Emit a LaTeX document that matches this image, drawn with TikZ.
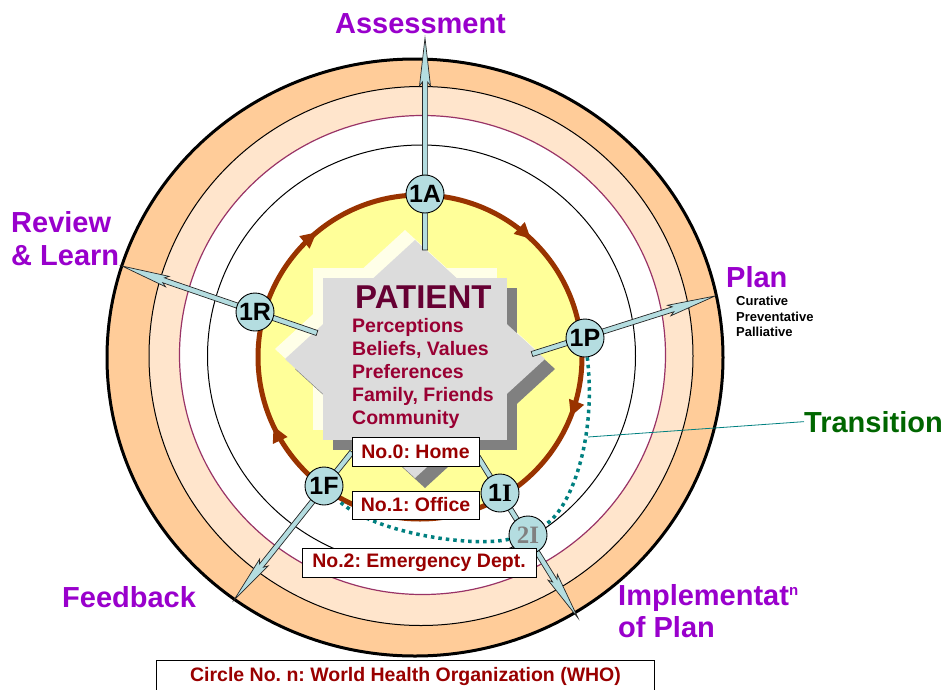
\documentclass[tikz,border=0pt]{standalone}
\usepackage{fontspec}
\setmainfont{Liberation Sans}
\newfontfamily\serifb{Liberation Serif}
\usetikzlibrary{calc,arrows.meta,decorations.markings}
\definecolor{ringorange}{HTML}{FFCC99}
\definecolor{ringpeach}{HTML}{FFE5CC}
\definecolor{ringpurple}{HTML}{993366}
\definecolor{coreyellow}{HTML}{FFFF99}
\definecolor{cyclebrown}{HTML}{993300}
\definecolor{nodeblue}{HTML}{B4DDE0}
\definecolor{labelpurple}{HTML}{9900CC}
\definecolor{transgreen}{HTML}{006600}
\definecolor{boxred}{HTML}{990000}
\definecolor{patdark}{HTML}{660033}
\definecolor{patred}{HTML}{990033}
\definecolor{dotteal}{HTML}{008080}
\definecolor{starface}{HTML}{DCDCDC}
\definecolor{starlight}{HTML}{FFFFE8}
\definecolor{starshadow}{HTML}{808080}
\newcommand\fs[1]{\fontsize{#1}{#1}\selectfont\bfseries}
\pgfdeclarelayer{back}
\pgfdeclarelayer{mid}
\pgfsetlayers{back,mid,main}
\newcommand\blockarrow[2]{%
  \coordinate (bh) at ($(#2)!44pt!(#1)$);
  \coordinate (bb) at ($(#2)!48pt!(#1)$);
  \filldraw[arrowbody] ($(#1)!2.6pt!90:(#2)$) -- ($(bh)!2.6pt!90:(#2)$) -- ($(bb)!5.5pt!90:(#2)$) -- (#2)
    -- ($(bb)!5.5pt!-90:(#2)$) -- ($(bh)!2.6pt!-90:(#2)$) -- ($(#1)!2.6pt!-90:(#2)$) -- cycle;}
\newcommand\starfill[1]{%
  \fill[#1] (323,278) rectangle (507,440);
  \fill[#1] (415,240) -- (545,359) -- (415,478) -- (285,359) -- cycle;}
\tikzset{
  stage/.style={circle, draw=black, line width=0.9pt, fill=nodeblue, minimum size=38pt, inner sep=0pt, font=\fs{25}},
  lab/.style={inner sep=0pt, anchor=base west, font=\fs{29}, text=labelpurple},
  infobox/.style={draw=black, line width=1pt, fill=white, text=boxred, font=\fs{19.5}, inner sep=0pt},
  pattext/.style={inner sep=0pt, anchor=base west, font=\fs{19.5}, text=patred},
  smalltext/.style={inner sep=0pt, anchor=base west, font=\fs{13}, text=black},
  arrowbody/.style={fill=nodeblue, draw=black!85, line width=0.7pt, line join=miter},
  brownring/.style={draw=cyclebrown, line width=5pt, fill=coreyellow,
    postaction={decorate},
    decoration={markings,
      mark=at position 0.06 with {\arrow{Triangle[length=16pt,width=15pt]}},
      mark=at position 0.43 with {\arrow{Triangle[length=16pt,width=15pt]}},
      mark=at position 0.64 with {\arrow{Triangle[length=16pt,width=15pt]}},
      mark=at position 0.87 with {\arrow{Triangle[length=16pt,width=15pt]}}}},
  dotline/.style={draw=dotteal, line width=3.5pt, dash pattern=on 3.5pt off 4pt},
}
\begin{document}
\frenchspacing
\begin{tikzpicture}[x=1pt,y=-1pt]
\useasboundingbox (0,0) rectangle (946,689);
% ---------- background rings, core and star
\begin{pgfonlayer}{back}
\draw[line width=3pt, fill=ringorange] (415,357.5) ellipse[x radius=308, y radius=298.5];
\draw[line width=1pt, fill=ringpeach] (421,356) ellipse[x radius=272, y radius=269.5];
\draw[ringpurple, line width=1.2pt, fill=white] (422.5,355) ellipse[x radius=243, y radius=239.5];
\draw[line width=1pt] (421.5,356) ellipse[x radius=214, y radius=211];
\path[brownring] (420,357) circle[radius=162];
\begin{scope}[shift={(-10,-10)}]
\starfill{starlight}
\end{scope}
\begin{scope}[shift={(10,10)}]
\starfill{starshadow}
\end{scope}
\starfill{starface}
\node[inner sep=0pt, anchor=base west, font=\fs{33}, text=patdark] (patient) at (355,308) {PATIENT};
\node[pattext] (perc) at (352,332) {Perceptions};
\node[pattext] (beli) at (352,355) {Beliefs, Values};
\node[pattext] (pref) at (352,378) {Preferences};
\node[pattext] (fami) at (352,401) {Family, Friends};
\node[pattext] (comm) at (352,424) {Community};
\end{pgfonlayer}
% ---------- stage nodes
\node[stage] (n1A) at (425,194) {1A};
\node[stage] (n1R) at (255,312) {1R};
\node[stage] (n1P) at (585,338) {1P};
\node[stage] (n1F) at (324,486) {1F};
\node[stage] (n1I) at (500,493) {1{\serifb I}};
\node[stage, text=gray] (n2I) at (528,535) {{\serifb 2I}};
% ---------- arrow end points
\coordinate (sA) at (425,250); \coordinate (tA) at (425,38);
\coordinate (sR) at (317,333); \coordinate (tR) at (122,266);
\coordinate (sP) at (532,354); \coordinate (tP) at (715,296);
\coordinate (sF) at (352,452); \coordinate (tF) at (234,600);
\coordinate (sI) at (478,457); \coordinate (tI) at (578,618);
\coordinate (tq) at (588,437);
% ---------- labels
\node[lab, anchor=base] (assess) at (420.5,33) {Assessment};
\node[lab] (rev) at (11,232) {Review};
\node[lab] (learn) at (11,265) {\& Learn};
\node[lab] (plan) at (726,287) {Plan};
\node[smalltext] (cur) at (736,305) {Curative};
\node[smalltext] (prev) at (736,321) {Preventative};
\node[smalltext] (pall) at (736,336) {Palliative};
\node[lab, text=transgreen] (trans) at (804,432) {Transition};
\node[lab] (feed) at (62,607) {Feedback};
\node[lab] (impl) at (618,605) {Implementat\raisebox{10pt}{\fs{15}n}};
\node[lab] (ofplan) at (618,637) {of Plan};
% ---------- connectors
\begin{pgfonlayer}{mid}
\blockarrow{sA}{tA}
\blockarrow{sR}{tR}
\blockarrow{sP}{tP}
\blockarrow{sF}{tF}
\blockarrow{sI}{tI}
\draw[dotline] (n1P) .. controls (597,440) and (570,510) .. (n2I);
\draw[dotline] (n2I) .. controls (470,548) and (370,532) .. (n1F);
\draw[dotteal, line width=0.8pt] (tq) -- (trans.west);
\end{pgfonlayer}
% ---------- boxes
\node[infobox, minimum width=127pt, minimum height=29pt] (home) at (415.5,451.5) {No.0: Home};
\node[infobox, minimum width=127pt, minimum height=28pt] (office) at (415.5,505) {No.1: Office};
\node[infobox, minimum width=234pt, minimum height=29pt] (er) at (419,562.5) {No.2: Emergency Dept.};
\node[infobox, anchor=north west, minimum width=498pt, minimum height=32pt] (who) at (156,660) {Circle No. n: World Health Organization (WHO)};
\end{tikzpicture}
\end{document}
